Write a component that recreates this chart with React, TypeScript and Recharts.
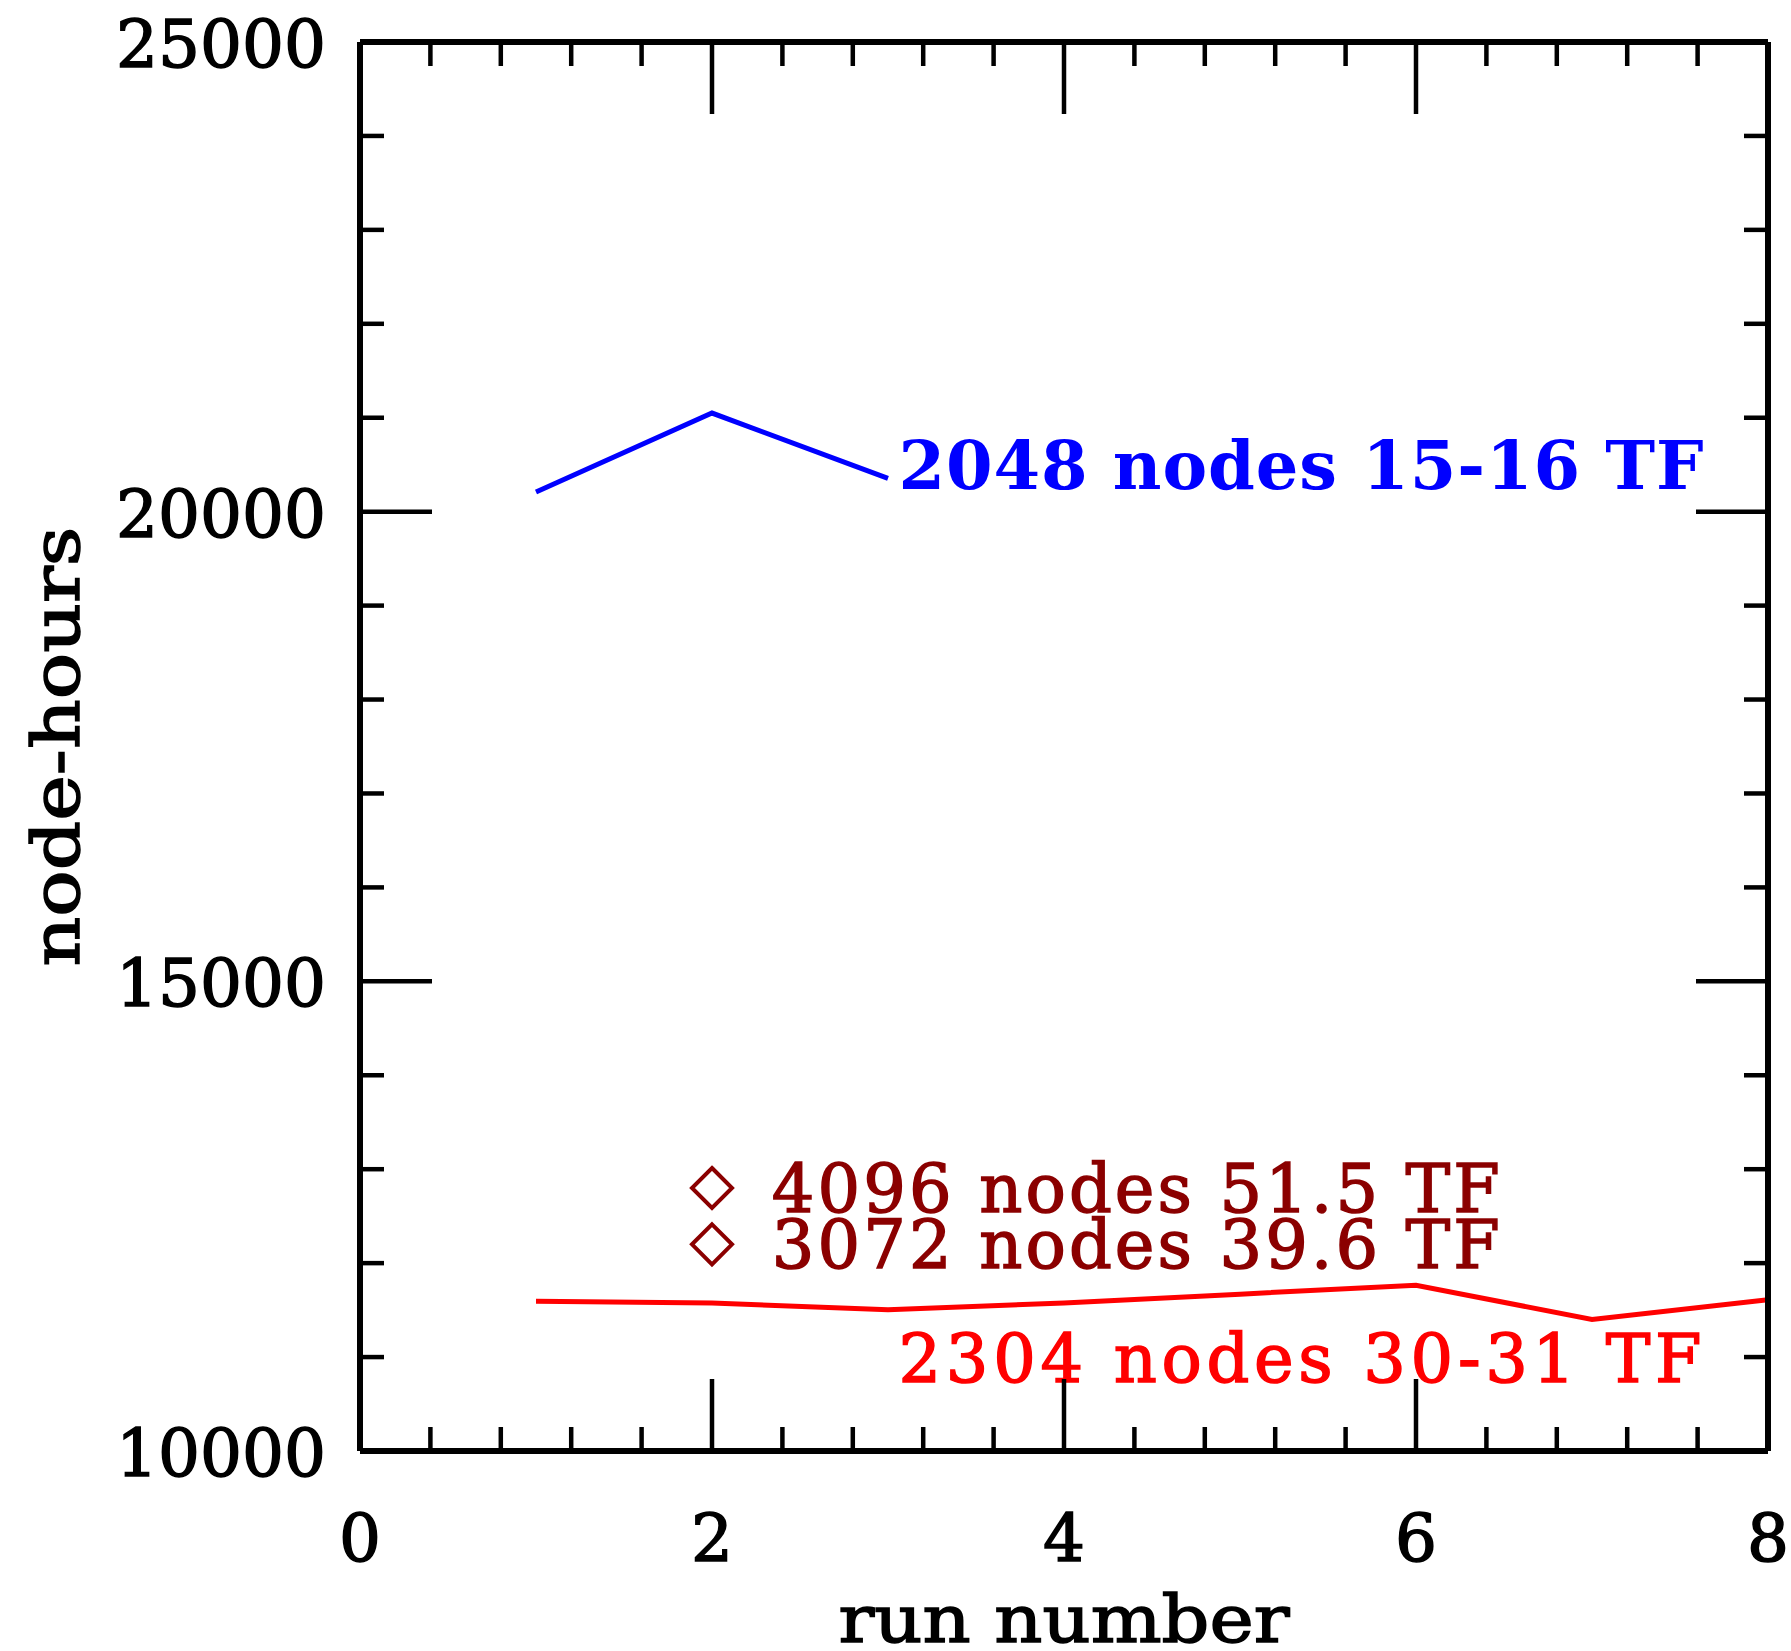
import React from "react";
import { ComposedChart, Line, Scatter, XAxis, YAxis, ReferenceDot } from "recharts";

// run numbers on the x axis
const runs2048 = [1, 2, 3];
const runs2304 = [1, 2, 3, 4, 5, 6, 7, 8];

// node-hours per run
const hours2048 = [20210, 21050, 20355];
const hours2304 = [11595, 11575, 11505, 11575, 11670, 11765, 11400, 11610];

// single runs on larger partitions (diamonds)
const bigRunX = [2, 2];
const bigRunHours = [12800, 12200];

const xTicks = [0, 0.4, 0.8, 1.2, 1.6, 2, 2.4, 2.8, 3.2, 3.6, 4, 4.4, 4.8, 5.2, 5.6, 6, 6.4, 6.8, 7.2, 7.6, 8];
const xTickLabels = [0, 2, 4, 6, 8];
const yTicks = [10000, 11000, 12000, 13000, 14000, 15000, 16000, 17000, 18000, 19000, 20000, 21000, 22000, 23000, 24000, 25000];
const yTickLabels = [10000, 15000, 20000, 25000];

// annotation texts and where they sit (data units)
const noteTexts = ["2048 nodes 15-16 TF", "2304 nodes 30-31 TF", "4096 nodes 51.5 TF", "3072 nodes 39.6 TF"];
const noteX = [3.06, 3.06, 2.34, 2.34];
const noteY = [20240, 10735, 12545, 11950];

const FONT = "DejaVu Serif";
const BLACK = "#000000";
const DARKRED = "#8b0000";

const line2048 = runs2048.map((x, i) => ({ x, y: hours2048[i] }));
const line2304 = runs2304.map((x, i) => ({ x, y: hours2304[i] }));
const bigRuns = bigRunX.map((x, i) => ({ x, y: bigRunHours[i] }));

const isMajorX = (v: number) => xTickLabels.includes(v);
const isMajorY = (v: number) => yTickLabels.includes(v);

const BottomTick = (props: any) => {
  const { x, y, payload } = props;
  const major = isMajorX(payload.value);
  return (
    <g>
      <line x1={x} y1={y} x2={x} y2={y - (major ? 72 : 24)} stroke={BLACK} strokeWidth={4.5} />
      {major && (
        <text x={x} y={y + 110} textAnchor="middle" fontFamily={FONT} fontSize={66} fill={BLACK} stroke={BLACK} strokeWidth={1.5}>
          {payload.value}
        </text>
      )}
    </g>
  );
};

const TopTick = (props: any) => {
  const { x, y, payload } = props;
  const major = isMajorX(payload.value);
  return <line x1={x} y1={y} x2={x} y2={y + (major ? 72 : 24)} stroke={BLACK} strokeWidth={4.5} />;
};

const LeftTick = (props: any) => {
  const { x, y, payload } = props;
  const major = isMajorY(payload.value);
  return (
    <g>
      <line x1={x} y1={y} x2={x + (major ? 72 : 24)} y2={y} stroke={BLACK} strokeWidth={4.5} />
      {major && (
        <text x={x - 34} y={y + 25} textAnchor="end" fontFamily={FONT} fontSize={66} fill={BLACK} stroke={BLACK} strokeWidth={1.5}>
          {payload.value}
        </text>
      )}
    </g>
  );
};

const RightTick = (props: any) => {
  const { x, y, payload } = props;
  const major = isMajorY(payload.value);
  return <line x1={x} y1={y} x2={x - (major ? 72 : 24)} y2={y} stroke={BLACK} strokeWidth={4.5} />;
};

const Diamond = (props: any) => {
  const { cx, cy } = props;
  const h = 20;
  return (
    <polygon
      points={`${cx},${cy - h} ${cx + h},${cy} ${cx},${cy + h} ${cx - h},${cy}`}
      fill="none"
      stroke={DARKRED}
      strokeWidth={4}
    />
  );
};

const noteStyle = [
  { color: "#0000ff", weight: "bold", stroke: 0, len: 805 },
  { color: "#ff0000", weight: "normal", stroke: 1.5, len: 803 },
  { color: DARKRED, weight: "normal", stroke: 1.5, len: 728 },
  { color: DARKRED, weight: "normal", stroke: 1.5, len: 728 },
];

export default function App() {
  return (
    <div style={{ position: "absolute", left: 0, top: 0, background: "#fff" }}>
      <ComposedChart width={1791} height={1651} margin={{ top: 41, right: 22, bottom: 0, left: 0 }}>
        <XAxis
          xAxisId="bottom"
          type="number"
          dataKey="x"
          domain={[0, 8]}
          ticks={xTicks}
          interval={0}
          height={200}
          tickSize={0}
          tickMargin={0}
          tickLine={false}
          tick={BottomTick}
          axisLine={{ stroke: BLACK, strokeWidth: 6 }}
          allowDataOverflow
          label={(p: any) => {
            const vb = p.viewBox;
            return (
              <text x={vb.x + vb.width / 2} y={vb.y + 191} textAnchor="middle" fontFamily={FONT} fontSize={66} fill={BLACK} stroke={BLACK} strokeWidth={1.5} textLength={451} lengthAdjust="spacingAndGlyphs">
                run number
              </text>
            );
          }}
        />
        <XAxis
          xAxisId="top"
          orientation="top"
          type="number"
          dataKey="x"
          domain={[0, 8]}
          ticks={xTicks}
          interval={0}
          height={1}
          tickSize={0}
          tickMargin={0}
          tickLine={false}
          tick={TopTick}
          axisLine={{ stroke: BLACK, strokeWidth: 6 }}
          allowDataOverflow
        />
        <YAxis
          yAxisId="left"
          type="number"
          domain={[10000, 25000]}
          ticks={yTicks}
          interval={0}
          width={360}
          tickSize={0}
          tickMargin={0}
          tickLine={false}
          tick={LeftTick}
          axisLine={{ stroke: BLACK, strokeWidth: 6 }}
          allowDataOverflow
          label={(p: any) => {
            const vb = p.viewBox;
            const cx = 79;
            const cy = vb.y + vb.height / 2;
            return (
              <text x={cx} y={cy} transform={`rotate(-90 ${cx} ${cy})`} textAnchor="middle" fontFamily={FONT} fontSize={66} fill={BLACK} stroke={BLACK} strokeWidth={1.5} textLength={440} lengthAdjust="spacingAndGlyphs">
                node-hours
              </text>
            );
          }}
        />
        <YAxis
          yAxisId="right"
          orientation="right"
          type="number"
          domain={[10000, 25000]}
          ticks={yTicks}
          interval={0}
          width={1}
          tickSize={0}
          tickMargin={0}
          tickLine={false}
          tick={RightTick}
          axisLine={{ stroke: BLACK, strokeWidth: 6 }}
          allowDataOverflow
        />
        <Line
          xAxisId="bottom"
          yAxisId="left"
          data={line2048}
          dataKey="y"
          stroke="#0000ff"
          strokeWidth={5}
          dot={false}
          type="linear"
          isAnimationActive={false}
        />
        <Line
          xAxisId="bottom"
          yAxisId="left"
          data={line2304}
          dataKey="y"
          stroke="#ff0000"
          strokeWidth={5}
          dot={false}
          type="linear"
          isAnimationActive={false}
        />
        <Scatter
          xAxisId="bottom"
          yAxisId="left"
          data={bigRuns}
          dataKey="y"
          shape={Diamond}
          isAnimationActive={false}
        />
        {noteTexts.map((t, i) => (
          <ReferenceDot
            key={t}
            xAxisId="bottom"
            yAxisId="left"
            x={noteX[i]}
            y={noteY[i]}
            r={0}
            shape={(p: any) => (
              <text
                x={p.cx}
                y={p.cy}
                fontFamily={FONT}
                fontSize={67}
                fontWeight={noteStyle[i].weight}
                fill={noteStyle[i].color}
                stroke={noteStyle[i].color}
                strokeWidth={noteStyle[i].stroke}
                textLength={noteStyle[i].len}
                lengthAdjust="spacing"
              >
                {t}
              </text>
            )}
          />
        ))}
      </ComposedChart>
    </div>
  );
}
